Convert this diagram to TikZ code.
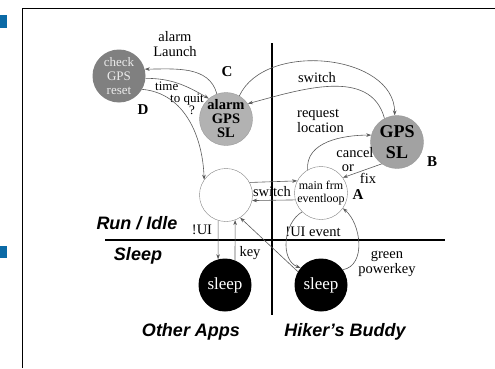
\documentclass[tikz,border=0pt]{standalone}
\usepackage{fontspec}
\setmainfont{Liberation Serif}
\setsansfont{Liberation Sans}
\usetikzlibrary{arrows.meta,positioning}
\definecolor{checkgrey}{HTML}{808080}
\definecolor{alarmgrey}{HTML}{B2B2B2}
\definecolor{gpsgrey}{HTML}{A2A2A2}
\definecolor{linegrey}{HTML}{5A5A5A}
\definecolor{boxblue}{HTML}{0B6AA6}
\begin{document}
\begin{tikzpicture}[x=1pt,y=1pt,
  state/.style={circle,minimum size=53pt,inner sep=0pt},
  ctext/.style={align=center,inner sep=0pt},
  lbl/.style={font=\fontsize{14.5}{15}\selectfont,inner sep=0pt,align=center},
  quit/.style={font=\fontsize{13}{13}\selectfont,inner sep=0pt,anchor=base west},
  tag/.style={font=\fontsize{15}{15}\selectfont\bfseries,inner sep=0pt},
  zone/.style={font=\fontsize{18}{18}\selectfont\sffamily\bfseries\itshape,inner sep=0pt},
  arr/.style={draw=linegrey,line width=0.6pt,-{Stealth[length=5pt,width=3.6pt]}},
  split/.style={line width=2.4pt}]
\useasboundingbox (0,0) rectangle (495,368);

\fill[boxblue] (0,340) rectangle (7,353);
\fill[boxblue] (0,110) rectangle (7,122);
\draw[line width=0.8pt] (22,0) -- (22,360) -- (495,360);

\node[state,fill=checkgrey,label={[ctext,text=white!92!black,font=\fontsize{13}{14}\selectfont]center:{check\\GPS\\reset}}] (checkgps) at (119,292) {};
\node[state,fill=alarmgrey,draw=black!40,label={[ctext,font=\fontsize{14.5}{14}\selectfont\bfseries]center:{alarm\\GPS\\SL}}] (alarmgps) at (226,249) {};
\node[state,fill=gpsgrey,draw=black!40,label={[ctext,font=\fontsize{18}{21}\selectfont\bfseries]center:{GPS\\SL}}] (gpssl) at (397,226) {};
\node[state,draw=black!50,label={[ctext,font=\fontsize{12}{13}\selectfont]center:{main frm\\eventloop}}] (mainloop) at (321,175) {};
\node[state,draw=black!50] (otherrun) at (226,173) {};
\node[state,fill=black,label={[ctext,text=white,font=\fontsize{17}{17}\selectfont]center:sleep}] (othersleep) at (225,83) {};
\node[state,fill=black,label={[ctext,text=white,font=\fontsize{17}{17}\selectfont]center:sleep}] (hikersleep) at (321,83) {};

\node[lbl] (launchlbl) at (175,324) {alarm\\Launch};
\node[quit,text depth=0pt] (quittime) at (155,278) {time};
\node[quit,text height=7pt,text depth=1pt] (quitto) at (170,266) {to quit};
\node[quit,text height=7pt] (quitmark) at (189,254) {?};
\node[lbl] (switchtop) at (317,290) {switch};
\node[lbl,align=left,anchor=west] (requestlbl) at (297,247) {request\\location};
\node[lbl] (cancellbl) at (355,215) {cancel};
\node[lbl] (orlbl) at (348,200) {or};
\node[lbl] (fixlbl) at (368,190) {fix};
\node[lbl] (switchmid) at (272,176) {switch};
\node[lbl] (uilbl) at (202,138) {!UI};
\node[lbl] (keylbl) at (250,115) {key};
\node[lbl] (uieventlbl) at (313,136) {!UI event};
\node[lbl] (powerlbl) at (387,104) {green\\powerkey};

\node[tag] (tagc) at (227,296) {C};
\node[tag] (tagd) at (143,258) {D};
\node[tag] (tagb) at (432,206) {B};
\node[tag] (taga) at (358,173) {A};

\node[zone] (runlbl) at (137,145) {Run / Idle};
\node[zone] (sleeplbl) at (138,112) {Sleep};
\node[zone] (otherlbl) at (191,36) {Other Apps};
\node[zone] (hikerlbl) at (345,36) {Hiker’s Buddy};

\draw[split] (272,325) -- (272,53);
\draw[split] (105,128) -- (445,128);

\draw[arr] (alarmgps.110) to[out=105,in=0] (checkgps.15);
\draw[arr] (checkgps.-5) to[out=0,in=150] (alarmgps.130);
\draw[arr] (checkgps.-30) to[out=-5,in=92] (otherrun.145);
\draw[arr] (alarmgps.60) to[out=65,in=90] (gpssl.95);
\draw[arr] (gpssl.118) to[out=105,in=15] (alarmgps.35);
\draw[arr] (mainloop.120) to[out=95,in=180] (gpssl.165);
\draw[arr] (gpssl.235) -- (mainloop.35);
\draw[arr] (otherrun.28) -- (mainloop.153);
\draw[arr] (mainloop.-165) -- (otherrun.-12);
\draw[arr] (otherrun.253) -- (othersleep.105);
\draw[arr] (othersleep.68) -- (otherrun.-70);
\draw[arr] (hikersleep.150) -- (otherrun.-58);
\draw[arr] (mainloop.225) to[out=210,in=160] (hikersleep.140);
\draw[arr] (hikersleep.35) to[out=10,in=-40] (mainloop.-35);
\end{tikzpicture}
\end{document}
